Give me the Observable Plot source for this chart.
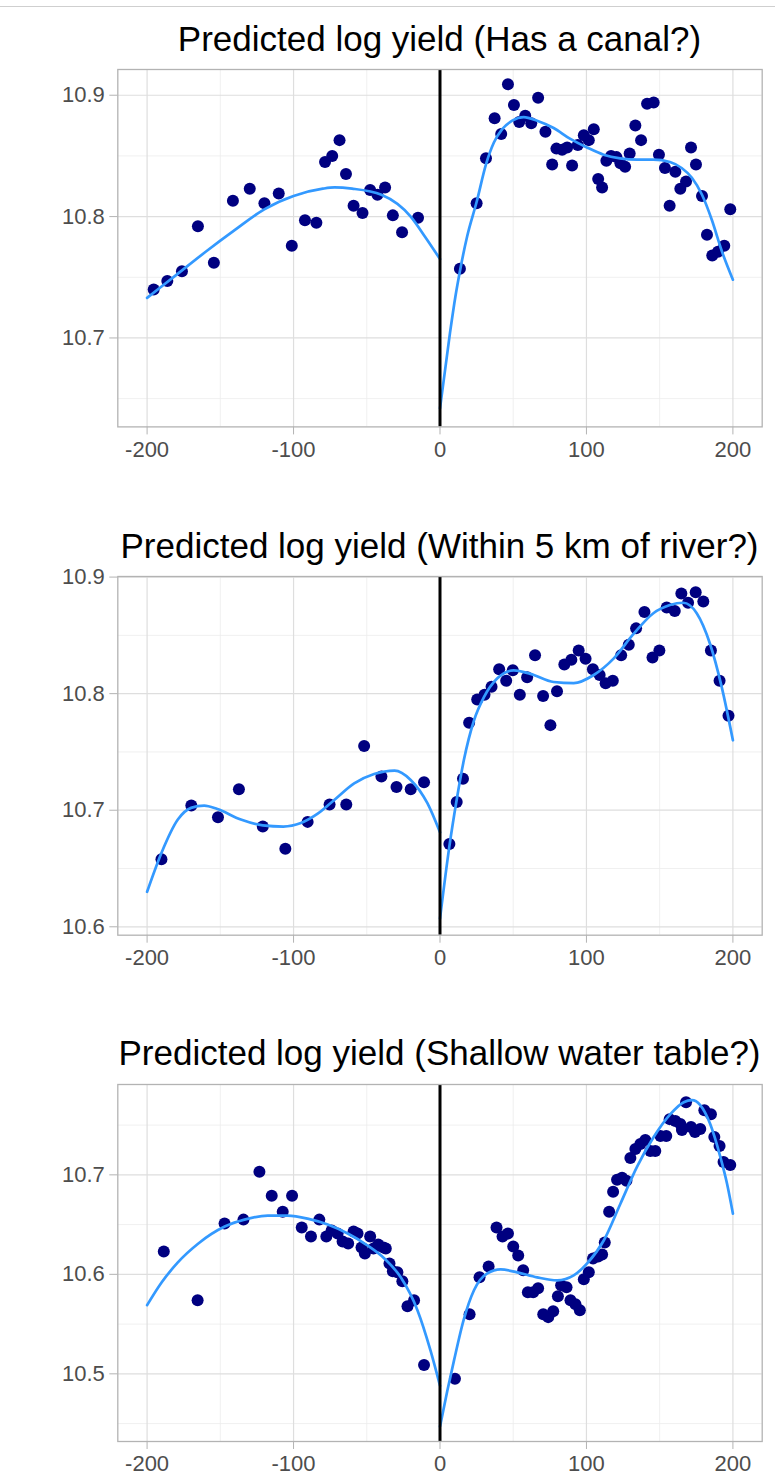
<!DOCTYPE html>
<html>
<head>
<meta charset="utf-8">
<script src="https://cdn.jsdelivr.net/npm/d3@7"></script>
<script src="https://cdn.jsdelivr.net/npm/@observablehq/plot@0.6"></script>
<style>
  html, body { margin: 0; padding: 0; background: #fff; }
  #wrap { position: relative; width: 775px; height: 1484px; overflow: hidden; font-family: "Liberation Sans", Arial, Helvetica, sans-serif; }
  .topline { position: absolute; left: 0; top: 6px; width: 775px; height: 1px; background: #cfcfcf; }
  .title { position: absolute; left: 117px; width: 645px; text-align: center; font-size: 35px; line-height: 35px; color: #000; white-space: nowrap; }
  .panel { position: absolute; left: 0; }
</style>
</head>
<body>
<div id="wrap"><div class="topline"></div></div>
<script>
// ---------- Panel 1: Has a canal? ----------
const canalTitle = "Predicted log yield (Has a canal?)";
const canalPointsX = [-195.5,-186.2,-176.2,-165.3,-154.4,-141.4,-129.9,-119.9,-110.1,-101.2,-92.2,-84.4,-78.5,-73.6,-68.6,-64.2,-59.0,-52.9,-47.7,-42.7,-37.5,-32.2,-25.9,-15.0,
  13.6,25,31.4,37.3,41.8,46.4,50.5,54.1,58.2,62.3,67.0,72,76.6,79.5,83.4,86.8,90.2,94.1,98.2,101.6,105,108,110.7,113.6,116.8,120.5,123.2,126.4,129.5,133.4,137.3,141.4,145.9,149.5,153.6,156.8,160.7,164.1,168,171.4,174.8,178.9,182.3,185.9,189.8,194.1,198.2];
const canalPointsY = [10.740,10.747,10.755,10.792,10.762,10.813,10.823,10.811,10.819,10.776,10.797,10.795,10.845,10.850,10.863,10.835,10.809,10.803,10.822,10.818,10.824,10.801,10.787,10.799,
  10.757,10.811,10.848,10.881,10.868,10.909,10.892,10.878,10.883,10.877,10.898,10.870,10.843,10.856,10.855,10.857,10.842,10.859,10.867,10.863,10.872,10.831,10.824,10.846,10.850,10.849,10.844,10.841,10.852,10.875,10.863,10.893,10.894,10.851,10.840,10.809,10.837,10.823,10.829,10.857,10.843,10.817,10.785,10.768,10.771,10.776,10.806];
const canalFitLeftX  = [-200,-180,-160,-140,-120,-100,-80,-72,-60,-40,-20,-10,0];
const canalFitLeftY  = [10.733,10.752,10.771,10.789,10.806,10.817,10.823,10.824,10.823,10.818,10.800,10.783,10.765];
const canalFitRightX = [0,6.8,10.5,13.6,18.6,25,31.4,36.8,42.5,49.3,57.2,66.3,77.6,89,100.3,111.7,123,134.4,145.7,157,165,172,178.9,185.7,192.3,200];
const canalFitRightY = [10.642,10.704,10.734,10.755,10.784,10.812,10.843,10.861,10.872,10.879,10.882,10.879,10.873,10.864,10.857,10.851,10.848,10.847,10.847,10.845,10.840,10.832,10.818,10.797,10.772,10.748];

// ---------- Panel 2: Within 5 km of river? ----------
const riverTitle = "Predicted log yield (Within 5 km of river?)";
const riverPointsX = [-190.2,-169.8,-151.6,-137.3,-121,-105.6,-90.4,-75.4,-64,-51.8,-40,-29.7,-20,-10.9,
  6.4,11.4,15.7,19.9,25.4,30.4,35.2,40.4,45.2,49.7,54.5,59.5,64.9,70.4,75.4,79.9,84.9,89.7,94.7,99.4,104.4,109,113.1,118,123.7,128.9,133.9,139.6,145.1,149.8,154.8,160.3,164.8,169.4,174.6,179.8,185,190.9,197];
const riverPointsY = [10.658,10.704,10.694,10.718,10.686,10.667,10.690,10.705,10.705,10.755,10.729,10.720,10.718,10.724,
  10.671,10.707,10.727,10.775,10.795,10.799,10.806,10.821,10.811,10.820,10.799,10.814,10.833,10.798,10.773,10.802,10.825,10.829,10.837,10.830,10.821,10.816,10.809,10.811,10.833,10.842,10.856,10.870,10.831,10.837,10.874,10.871,10.886,10.878,10.887,10.879,10.837,10.811,10.781];
const riverFitLeftX  = [-200,-190,-179,-170,-161,-152,-136,-121,-107,-95,-83.5,-72,-58.6,-45,-31,-20,-8.6,0];
const riverFitLeftY  = [10.630,10.664,10.692,10.702,10.704,10.701,10.692,10.687,10.686,10.689,10.697,10.709,10.723,10.731,10.734,10.726,10.706,10.681];
const riverFitRightX = [0,6.4,11.4,16.3,23.2,30,39,50.4,61.7,77.6,91.3,105,118.5,132,145.7,157,166,175.3,184.3,192.3,200];
const riverFitRightY = [10.607,10.669,10.709,10.743,10.777,10.797,10.813,10.820,10.817,10.810,10.809,10.816,10.830,10.851,10.869,10.876,10.878,10.869,10.843,10.806,10.760];

// ---------- Panel 3: Shallow water table? ----------
const waterTitle = "Predicted log yield (Shallow water table?)";
const waterPointsX = [-188.6,-165.5,-147.1,-134.2,-123.3,-114.9,-107.4,-101,-94.4,-88.1,-82.4,-77.6,-74,-69.9,-66.5,-62.7,-59,-56.3,-53.6,-51.3,-47.7,-45.4,-42.2,-38.6,-37,-34.5,-32.2,-29.1,-25.7,-22.2,-17.7,-10.9,
  10.2,20.2,27,33.2,38.6,42.7,46.4,50,53.4,56.8,60,63.6,67,70.5,73.9,77.3,80.5,82.7,86.4,89.1,92.5,95.5,98.2,101.6,104.5,108,110.7,112.5,115.5,118.2,120.9,124.3,127.3,130,133.4,136.8,140.2,143.6,147,150.5,154.5,156.8,160.7,164.1,165.2,168,171.4,174.1,177.7,180.5,185,187.3,190.9,193.6,198.2];
const waterPointsY = [10.623,10.574,10.651,10.655,10.703,10.679,10.663,10.679,10.647,10.638,10.655,10.638,10.644,10.641,10.633,10.631,10.643,10.641,10.627,10.621,10.638,10.626,10.630,10.627,10.626,10.611,10.603,10.602,10.593,10.568,10.574,10.509,
  10.495,10.560,10.597,10.608,10.647,10.638,10.641,10.628,10.619,10.604,10.582,10.582,10.586,10.560,10.557,10.563,10.578,10.589,10.587,10.574,10.570,10.564,10.595,10.602,10.616,10.618,10.620,10.632,10.663,10.683,10.695,10.697,10.694,10.717,10.726,10.731,10.735,10.724,10.724,10.739,10.739,10.756,10.754,10.751,10.745,10.773,10.748,10.743,10.746,10.765,10.761,10.738,10.729,10.713,10.710];
const waterFitLeftX  = [-200,-190,-179,-165,-147,-133.5,-117.6,-104,-90.4,-76.7,-63,-49.5,-38,-26.8,-15.4,-6.4,0];
const waterFitLeftY  = [10.569,10.592,10.612,10.631,10.648,10.655,10.659,10.659,10.656,10.650,10.641,10.629,10.616,10.597,10.564,10.523,10.488];
const waterFitRightX = [0,5,9.5,16.3,23.2,32.3,41.4,52.7,66.3,80,91.3,100.5,111.8,123.2,134.5,145.9,157.3,166.4,172,177.7,184.5,191.4,196,200];
const waterFitRightY = [10.447,10.483,10.513,10.555,10.584,10.601,10.605,10.602,10.597,10.594,10.599,10.611,10.634,10.671,10.708,10.738,10.761,10.773,10.775,10.770,10.751,10.718,10.691,10.661];

// tick labels
const xTicks = [-200, -100, 0, 100, 200];
const xMinor = [-150, -50, 50, 150];

const panels = [
  {title: canalTitle, px: canalPointsX, py: canalPointsY, lx: canalFitLeftX, ly: canalFitLeftY, rx: canalFitRightX, ry: canalFitRightY,
   frameTop: 69.3, frameBottom: 426.7, yDomain: [10.6267, 10.9212], yTicks: [10.7, 10.8, 10.9], yMinor: [10.65, 10.75, 10.85]},
  {title: riverTitle, px: riverPointsX, py: riverPointsY, lx: riverFitLeftX, ly: riverFitLeftY, rx: riverFitRightX, ry: riverFitRightY,
   frameTop: 576.3, frameBottom: 935, yDomain: [10.5928, 10.9005], yTicks: [10.6, 10.7, 10.8, 10.9], yMinor: [10.65, 10.75, 10.85]},
  {title: waterTitle, px: waterPointsX, py: waterPointsY, lx: waterFitLeftX, ly: waterFitLeftY, rx: waterFitRightX, ry: waterFitRightY,
   frameTop: 1084, frameBottom: 1441, yDomain: [10.432, 10.7908], yTicks: [10.5, 10.6, 10.7], yMinor: [10.45, 10.55, 10.65, 10.75]}
];

const wrap = document.getElementById("wrap");
for (const p of panels) {
  const pts = p.px.map((x, i) => ({x, y: p.py[i]}));
  const fit = [
    ...p.lx.map((x, i) => ({x, y: p.ly[i], side: "left"})),
    ...p.rx.map((x, i) => ({x, y: p.ry[i], side: "right"}))
  ];
  const mt = 20, mb = 40;
  const top = p.frameTop - mt;
  const height = (p.frameBottom - p.frameTop) + mt + mb;
  const chart = Plot.plot({
    width: 775,
    height,
    marginLeft: 117.3,
    marginRight: 13.3,
    marginTop: mt,
    marginBottom: mb,
    x: {domain: [-220, 220]},
    y: {domain: p.yDomain},
    style: {fontFamily: '"Liberation Sans", Arial, Helvetica, sans-serif', fontSize: "22px", background: "transparent"},
    marks: [
      Plot.ruleX(xMinor, {stroke: "#ececec", strokeWidth: 0.8}),
      Plot.ruleY(p.yMinor, {stroke: "#ececec", strokeWidth: 0.8}),
      Plot.ruleX(xTicks, {stroke: "#dedede", strokeWidth: 1.2}),
      Plot.ruleY(p.yTicks, {stroke: "#dedede", strokeWidth: 1.2}),
      Plot.axisX({ticks: xTicks, tickFormat: d => String(d), tickSize: 8, tickPadding: 6, stroke: "#b3b3b3", fill: "#4d4d4d", label: null}),
      Plot.axisY({ticks: p.yTicks, tickFormat: d => d.toFixed(1), tickSize: 8, tickPadding: 5, stroke: "#b3b3b3", fill: "#4d4d4d", label: null}),
      Plot.dot(pts, {x: "x", y: "y", r: 6, fill: "#000080", stroke: null}),
      Plot.line(fit, {x: "x", y: "y", z: "side", stroke: "#3399ff", strokeWidth: 2.7, curve: "monotone-x"}),
      Plot.ruleX([0], {stroke: "black", strokeWidth: 3}),
      Plot.frame({stroke: "#b3b3b3", strokeWidth: 1.3})
    ]
  });
  const div = document.createElement("div");
  div.className = "panel";
  div.style.top = top + "px";
  div.appendChild(chart);
  wrap.appendChild(div);
  const t = document.createElement("div");
  t.className = "title";
  t.textContent = p.title;
  t.style.top = (p.frameTop - 19 - 29.6) + "px";
  wrap.appendChild(t);
}
</script>
</body>
</html>
